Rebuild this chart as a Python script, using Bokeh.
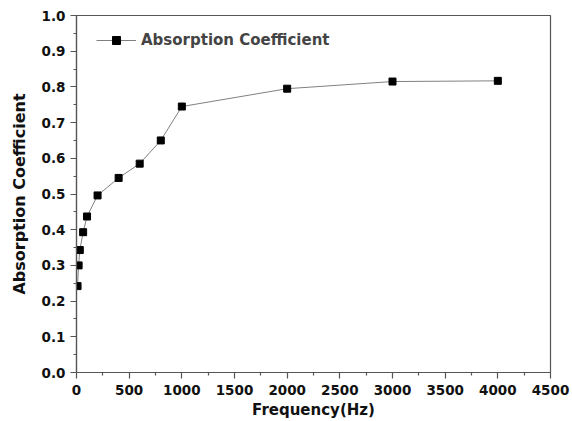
from bokeh.plotting import figure
from bokeh.models import Range1d, FixedTicker, Legend, LegendItem, CustomJSTickFormatter
from bokeh.embed import file_html
from bokeh.resources import INLINE

freq = [10, 20, 31.5, 63, 100, 200, 400, 600, 800, 1000, 2000, 3000, 4000]
absorption = [0.242, 0.30, 0.343, 0.393, 0.437, 0.496, 0.545, 0.585, 0.65, 0.745, 0.795, 0.815, 0.817]
x_ticks = [0, 500, 1000, 1500, 2000, 2500, 3000, 3500, 4000, 4500]
y_ticks = [0.0, 0.1, 0.2, 0.3, 0.4, 0.5, 0.6, 0.7, 0.8, 0.9, 1.0]

FONT = "DejaVu Sans"

p = figure(frame_width=474, frame_height=357, output_backend="svg", toolbar_location=None,
           x_range=Range1d(0, 4500), y_range=Range1d(0, 1.0),
           min_border_left=76, min_border_right=22, min_border_top=15, min_border_bottom=45)
p.background_fill_color = "white"
p.border_fill_color = "white"
p.grid.visible = False
p.outline_line_color = "#555555"
p.outline_line_width = 1.2

line = p.line(freq, absorption, line_color="#808080", line_width=1)
pts = p.scatter(freq, absorption, marker="square", size=7, fill_color="black", line_color="black")

legend = Legend(items=[LegendItem(label="Absorption Coefficient", renderers=[line, pts])],
                location=(20, 322), border_line_color=None, background_fill_alpha=0,
                label_text_font=FONT, label_text_font_style="bold", label_text_font_size="15px",
                glyph_width=40, label_standoff=5, padding=4, margin=0)
p.add_layout(legend, "center")

for ax in (p.xaxis[0], p.yaxis[0]):
    ax.axis_line_color = "#555555"
    ax.axis_line_width = 1.2
    ax.major_tick_in = 0
    ax.major_tick_out = 6
    ax.minor_tick_in = 0
    ax.minor_tick_out = 3
    ax.major_tick_line_color = "#555555"
    ax.minor_tick_line_color = "#555555"
    ax.major_tick_line_width = 1.2
    ax.minor_tick_line_width = 1.2
    ax.major_label_text_font = FONT
    ax.major_label_text_font_style = "bold"
    ax.major_label_text_font_size = "13.5px"
    ax.major_label_text_color = "#111111"
    ax.axis_label_text_font = FONT
    ax.axis_label_text_font_style = "bold"
    ax.axis_label_text_color = "#111111"

p.xaxis.axis_label_text_font_size = "15px"
p.yaxis.axis_label_text_font_size = "16px"
p.xaxis.ticker = FixedTicker(ticks=x_ticks, minor_ticks=[250 + 500 * i for i in range(9)])
p.yaxis.ticker = FixedTicker(ticks=y_ticks, minor_ticks=[0.05 + 0.1 * i for i in range(10)])
p.yaxis.formatter = CustomJSTickFormatter(code="return tick.toFixed(1);")
p.xaxis.axis_label = "Frequency(Hz)"
p.yaxis.axis_label = "Absorption Coefficient"
p.xaxis.major_label_standoff = 6
p.yaxis.major_label_standoff = 5
p.xaxis.axis_label_standoff = 3
p.yaxis.axis_label_standoff = 10

open("out.html", "w").write(file_html(p, INLINE))
